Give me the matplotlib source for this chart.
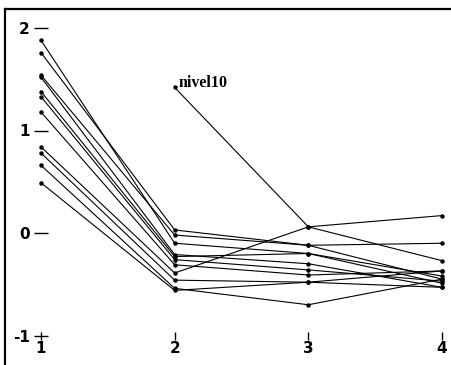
import numpy as np
import matplotlib.pyplot as plt
from matplotlib.lines import Line2D

plt.rcParams['axes.unicode_minus'] = False

# time points and one row per subject (nan = missing)
tiempos = [1, 2, 3, 4]
niveles = [
    [1.88, -0.10, -0.20, -0.42],
    [1.76, 0.03, -0.12, -0.10],
    [1.54, -0.02, -0.12, -0.45],
    [1.52, -0.21, -0.30, -0.53],
    [1.38, -0.23, -0.20, -0.49],
    [1.33, -0.26, -0.36, -0.47],
    [1.18, -0.31, -0.41, -0.37],
    [0.84, -0.39, 0.06, -0.27],
    [0.78, -0.46, -0.48, -0.37],
    [0.66, -0.54, -0.70, -0.45],
    [0.49, -0.56, -0.48, -0.53],
]
nivel10 = [np.nan, 1.42, 0.06, 0.17]
etiqueta = "nivel10"
yticks = [-1, 0, 1, 2]

fig = plt.figure(figsize=(4.52, 3.65), dpi=100)
ax = fig.add_axes([0, 0, 1, 1])

# map data to pixels like the scan: x=1 at 41px, x=4 at 442px; y=0 at 233px from top
ppx = (442 - 41) / 3.0
ppy = 102.5
ax.set_xlim(1 - 41 / ppx, 1 + (452 - 41) / ppx)
ax.set_ylim(-(365 - 233) / ppy, 233 / ppy)

for fila in niveles:
    ax.plot(tiempos, fila, color='black', lw=0.8, marker='o', ms=2.2)
ax.plot(tiempos, nivel10, color='black', lw=0.8, marker='o', ms=2.2)
ax.annotate(etiqueta, (tiempos[1], nivel10[1]), xytext=(3, 3), textcoords='offset points',
            ha='left', va='center', family='Liberation Serif', fontweight='bold', fontsize=11.5)

for s in ['top', 'right']:
    ax.spines[s].set_visible(False)
ax.spines['left'].set_position(('data', 1))
ax.spines['bottom'].set_position(('data', -1))
ax.spines['left'].set_color('none')
ax.spines['bottom'].set_color('none')

ax.set_yticks(yticks)
ax.set_xticks(tiempos)
ax.tick_params(axis='y', direction='out', length=6, width=1, pad=3, labelsize=11)
ax.tick_params(axis='x', direction='inout', length=6, width=1, pad=1, labelsize=11)
ax.yaxis.set_tick_params(which='major', direction='inout', length=10)
for t in ax.get_xticklabels() + ax.get_yticklabels():
    t.set_fontweight('heavy')

# scan frame: top and left borders
fig.add_artist(Line2D([5 / 452, 1], [1 - 9 / 365] * 2, transform=fig.transFigure, color='black', lw=1.6))
fig.add_artist(Line2D([5 / 452] * 2, [0, 1 - 9 / 365], transform=fig.transFigure, color='black', lw=1.6))

fig.savefig('out.png', dpi=100)
